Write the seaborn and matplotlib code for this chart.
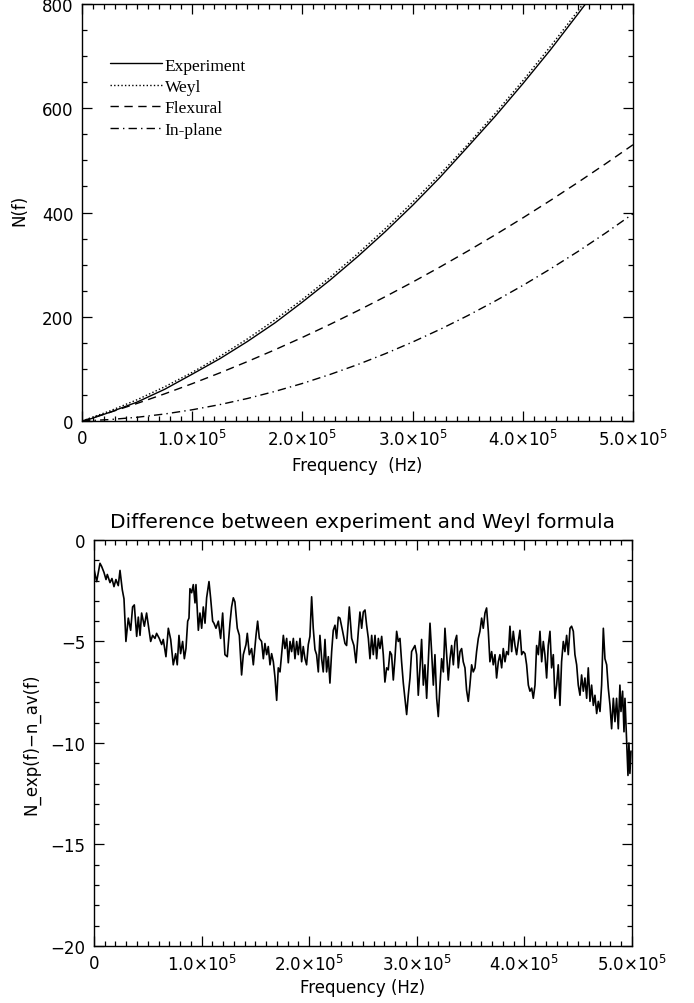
import numpy as np
import pandas as pd
import matplotlib
matplotlib.use("Agg")
import matplotlib.pyplot as plt
from matplotlib.ticker import MultipleLocator, FuncFormatter
import seaborn as sns

# top panel: counting functions, frequency in kHz
top_freq_khz = [0, 25, 50, 75, 100, 125, 150, 175, 200, 225, 250, 275, 300,
                325, 350, 375, 400, 425, 450, 475, 500]
n_experiment = [-1.5, 16.5, 36.3, 60.8, 89.8, 119.4, 152.4, 188.1, 228.2, 270.2, 315.1,
                362.9, 413.7, 467.8, 525.9, 584.7, 647.0, 711.9, 780.8, 850.7, 922.5]
n_weyl = [0.0, 19.0, 40.8, 65.6, 93.3, 123.9, 157.4, 193.9, 233.2, 275.5, 320.6,
          368.7, 419.7, 473.6, 530.4, 590.2, 652.8, 718.4, 786.8, 858.2, 932.5]
n_flexural = [0.0, 16.3, 33.7, 52.1, 71.6, 92.2, 113.9, 136.6, 160.4, 185.3, 211.3,
              238.3, 266.4, 295.6, 325.9, 357.2, 389.6, 423.1, 457.7, 493.3, 530.0]
n_inplane = [0.0, 2.7, 7.1, 13.4, 21.5, 31.4, 43.1, 56.7, 72.0, 89.2, 108.1,
             128.9, 151.5, 175.9, 202.1, 230.2, 260.0, 291.7, 325.1, 360.4, 397.5]

# bottom panel: experiment minus Weyl
diff_freq_khz = [
    0.3, 2.5, 5.6, 7.1, 9.3, 11.2, 12.4, 14.9, 16.7, 18.6, 20.4, 22.6, 24.2, 26.3, 27.9,
    29.7, 31.9, 34.1, 35.9, 37.5, 39.7, 41.2, 42.8, 44.3, 46.8, 48.9, 50.5, 52.7, 54.5,
    56.7, 58.2, 60.7, 62.9, 64.4, 66.9, 69.1, 71.3, 73.7, 75.9, 77.4, 79.0, 80.5, 82.4,
    84.0, 85.5, 87.1, 88.3, 89.2, 90.8, 92.3, 93.9, 94.8, 97.0, 98.5, 100.1, 101.6,
    103.2, 104.7, 106.9, 108.4, 110.3, 111.5, 113.4, 115.6, 117.7, 119.6, 121.7, 123.9,
    126.4, 127.9, 129.5, 131.0, 133.2, 135.1, 137.2, 138.8, 141.3, 142.5, 144.4, 146.5,
    148.1, 150.6, 152.1, 153.7, 155.8, 157.4, 158.9, 160.5, 162.0, 163.6, 165.1, 166.7,
    168.2, 169.8, 171.3, 172.9, 174.4, 176.0, 177.5, 179.1, 180.6, 182.2, 183.7, 185.3,
    186.8, 188.4, 189.9, 191.5, 193.0, 194.5, 196.1, 197.6, 199.2, 200.7, 202.3, 203.8,
    205.4, 206.9, 208.5, 210.0, 211.6, 213.1, 214.7, 216.2, 217.8, 219.3, 220.9, 222.4,
    224.0, 225.5, 227.1, 228.6, 231.1, 233.3, 234.8, 237.3, 239.5, 241.6, 243.5, 245.7,
    247.2, 248.8, 250.3, 251.9, 253.4, 255.0, 256.5, 258.1, 259.6, 261.2, 262.7, 264.3,
    265.8, 267.4, 268.9, 270.4, 272.0, 273.5, 275.1, 276.6, 278.2, 279.7, 281.3, 282.8,
    284.4, 285.9, 287.5, 289.0, 290.6, 292.1, 293.7, 295.2, 296.8, 298.3, 299.9, 301.4,
    303.0, 304.5, 306.1, 307.6, 309.2, 310.7, 312.3, 313.8, 315.4, 316.9, 318.5, 320.0,
    321.6, 323.1, 324.7, 326.2, 327.8, 329.3, 330.9, 332.4, 334.0, 335.5, 337.1, 338.6,
    340.2, 341.7, 343.2, 344.8, 346.3, 347.9, 349.4, 351.0, 352.5, 354.1, 355.6, 357.2,
    358.7, 360.3, 361.8, 363.4, 364.9, 366.5, 368.0, 369.6, 371.1, 372.7, 374.2, 375.8,
    377.3, 378.9, 380.4, 382.0, 383.5, 385.1, 386.6, 388.2, 389.7, 391.3, 392.8, 394.4,
    395.9, 397.5, 399.0, 400.6, 402.1, 403.7, 405.2, 406.8, 408.3, 409.9, 411.4, 413.0,
    414.5, 416.1, 417.6, 419.1, 420.7, 422.2, 423.8, 425.3, 426.9, 428.4, 430.0, 431.5,
    433.1, 434.6, 436.2, 437.7, 439.3, 440.8, 442.4, 443.9, 445.5, 447.0, 448.6, 450.1,
    451.7, 453.2, 454.8, 456.3, 457.9, 459.4, 461.0, 462.5, 464.1, 465.6, 467.2, 468.7,
    470.3, 471.8, 473.4, 474.9, 476.5, 478.0, 479.6, 481.1, 482.7, 484.2, 485.7, 487.3,
    488.8, 489.8, 491.3, 492.6, 493.5, 496.3, 497.2, 498.1, 499.1]
diff_values = [
    -1.5, -2.05, -1.15, -1.3, -1.6, -1.95, -1.7, -2.1, -1.9, -2.3, -1.95, -2.25, -1.5,
    -2.45, -2.9, -5.0, -3.85, -4.45, -3.3, -3.2, -4.75, -3.8, -4.7, -3.6, -4.25, -3.6,
    -4.2, -5.0, -4.7, -4.85, -4.6, -4.85, -5.15, -4.9, -5.75, -4.35, -4.9, -6.15, -5.6,
    -6.15, -4.7, -5.6, -5.0, -5.85, -5.35, -4.0, -3.85, -2.4, -2.6, -2.2, -3.1, -2.2,
    -4.45, -3.6, -4.35, -3.3, -4.1, -2.85, -2.05, -2.85, -4.0, -4.1, -4.35, -4.0, -4.85,
    -3.6, -5.65, -5.75, -4.1, -3.3, -2.85, -3.05, -4.35, -4.7, -6.65, -5.65, -5.15,
    -4.6, -5.65, -5.35, -6.15, -4.7, -4.0, -4.85, -5.0, -5.85, -5.1, -5.65, -5.25,
    -6.15, -5.6, -6.0, -6.75, -7.9, -6.3, -6.5, -5.65, -4.7, -5.35, -4.85, -6.05, -5.0,
    -5.5, -4.85, -5.85, -5.0, -5.65, -4.85, -6.0, -5.25, -5.85, -6.15, -5.15, -4.75,
    -2.8, -4.35, -5.4, -5.65, -6.5, -4.7, -5.85, -6.5, -4.9, -6.5, -5.75, -7.05, -5.5,
    -4.45, -4.2, -4.85, -3.8, -3.85, -4.5, -5.1, -5.2, -3.3, -4.85, -5.2, -6.05, -4.5,
    -3.55, -4.35, -3.55, -3.45, -4.2, -4.85, -5.85, -4.7, -5.65, -4.7, -5.85, -4.85,
    -5.35, -4.75, -5.65, -7.0, -6.3, -6.4, -5.5, -5.65, -6.9, -5.85, -4.5, -5.0, -4.85,
    -6.0, -7.05, -7.8, -8.6, -7.65, -6.8, -5.5, -5.35, -5.2, -5.65, -7.65, -6.3, -4.9,
    -7.15, -6.15, -7.8, -6.0, -4.1, -5.5, -7.15, -5.65, -7.8, -8.7, -7.15, -5.85, -6.5,
    -4.35, -5.65, -6.9, -5.85, -5.2, -6.15, -5.0, -4.7, -6.3, -5.5, -5.35, -6.0, -6.3,
    -7.4, -7.95, -7.15, -6.15, -6.5, -6.3, -5.5, -4.85, -4.5, -3.85, -4.35, -3.6, -3.35,
    -4.5, -6.0, -5.5, -6.15, -5.65, -6.8, -6.0, -5.65, -6.3, -5.35, -6.0, -5.5, -5.65,
    -4.25, -5.5, -4.5, -5.2, -5.65, -5.0, -4.45, -5.65, -5.5, -5.6, -6.15, -7.15, -7.45,
    -7.3, -7.8, -7.15, -5.2, -5.65, -4.5, -6.0, -5.0, -5.65, -6.8, -5.2, -4.5, -6.3,
    -5.65, -7.8, -7.15, -6.15, -8.15, -6.0, -5.0, -5.5, -4.7, -5.65, -4.35, -4.25, -4.5,
    -5.65, -6.15, -7.15, -7.65, -6.65, -7.45, -6.8, -7.8, -6.3, -7.95, -7.15, -8.15,
    -7.65, -8.55, -7.95, -8.45, -7.15, -4.35, -5.85, -6.15, -7.3, -8.15, -9.3, -7.8,
    -8.95, -7.8, -9.3, -7.15, -8.45, -7.45, -9.45, -7.8, -11.6, -10.0, -11.5, -10.4]

sns.set_style("ticks")
plt.rcParams["font.family"] = ["DejaVu Sans"]
plt.rcParams["mathtext.default"] = "regular"
plt.rcParams["axes.linewidth"] = 1.0
plt.rcParams["text.color"] = "black"
plt.rcParams["axes.labelcolor"] = "black"
plt.rcParams["xtick.color"] = "black"
plt.rcParams["ytick.color"] = "black"

top = pd.DataFrame({"f": np.array(top_freq_khz) * 1e3, "exp": n_experiment,
                    "weyl": n_weyl, "flex": n_flexural, "inpl": n_inplane})
bot = pd.DataFrame({"f": np.array(diff_freq_khz) * 1e3, "d": diff_values})

fig = plt.figure(figsize=(6.94, 10.04), dpi=100)
ax1 = fig.add_axes([0.1182, 0.5797, 0.7939, 0.4153])
ax2 = fig.add_axes([0.1354, 0.0568, 0.7752, 0.4044])

sns.lineplot(data=top, x="f", y="exp", ax=ax1, color="black", lw=1.0, label="Experiment")
sns.lineplot(data=top, x="f", y="weyl", ax=ax1, color="black", lw=1.0,
             linestyle=(0, (1, 1.6)), label="Weyl")
sns.lineplot(data=top, x="f", y="flex", ax=ax1, color="black", lw=1.0,
             linestyle=(0, (6, 4)), label="Flexural")
sns.lineplot(data=top, x="f", y="inpl", ax=ax1, color="black", lw=1.0,
             linestyle=(0, (6, 3, 1, 3)), label="In-plane")

sns.lineplot(data=bot, x="f", y="d", ax=ax2, color="black", lw=1.2)


def freq_fmt(v, pos):
    if abs(v) < 1:
        return "0"
    return "%.1f×10$^{5}$" % (v / 1e5)


for ax in (ax1, ax2):
    ax.set_xlim(0, 5e5)
    ax.xaxis.set_major_locator(MultipleLocator(1e5))
    ax.xaxis.set_minor_locator(MultipleLocator(1e4))
    ax.xaxis.set_major_formatter(FuncFormatter(freq_fmt))
    ax.tick_params(which="both", direction="in", top=True, right=True,
                   labelsize=12, width=0.9, color="black", labelcolor="black")
    ax.tick_params(which="major", length=7, pad=6)
    ax.tick_params(which="minor", length=3.5)
    for s in ax.spines.values():
        s.set_visible(True)
        s.set_color("black")

ax1.set_ylim(0, 800)
ax1.yaxis.set_major_locator(MultipleLocator(200))
ax1.yaxis.set_minor_locator(MultipleLocator(50))
ax1.set_xlabel("Frequency  (Hz)", fontsize=12)
ax1.set_ylabel("N(f)", fontsize=12)
ax1.xaxis.set_label_coords(0.5, -0.083)
ax1.yaxis.set_label_coords(-0.098, 0.508)

leg = ax1.legend(loc="upper left", bbox_to_anchor=(0.051, 0.872), frameon=False,
                 borderpad=0, borderaxespad=0, handlelength=3.0, handletextpad=0.15,
                 labelspacing=0.3, prop={"family": "Liberation Serif", "size": 12.5})

ax2.set_ylim(-20, 0)
ax2.yaxis.set_major_locator(MultipleLocator(5))
ax2.yaxis.set_minor_locator(MultipleLocator(1))
ax2.set_xlabel("Frequency (Hz)", fontsize=12)
ax2.set_ylabel("N_exp(f)−n_av(f)", fontsize=12)
ax2.xaxis.set_label_coords(0.5, -0.08)
ax2.yaxis.set_label_coords(-0.10, 0.5)
ax2.set_title("Difference between experiment and Weyl formula", fontsize=14.5, pad=9)

fig.savefig("out.png", dpi=100)
